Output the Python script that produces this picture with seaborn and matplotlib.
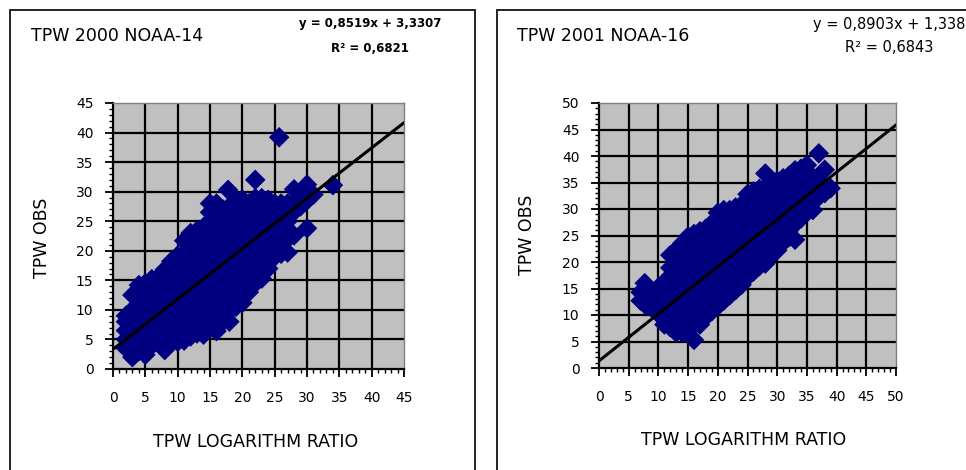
import matplotlib
matplotlib.use("Agg")
import matplotlib.pyplot as plt
from matplotlib.patches import Rectangle
from matplotlib.ticker import MultipleLocator
import numpy as np
import pandas as pd
import seaborn as sns

# ---- TPW 2000 NOAA-14 : points, column by column ----
x_2000 = ([2] * 5 + [3] * 7 + [4] * 8 + [5] * 9 + [6] * 9 + [7] * 9 + [8] * 10
          + [9] * 10 + [10] * 11 + [11] * 12 + [12] * 13 + [13] * 13 + [14] * 14
          + [15] * 15 + [16] * 16 + [17] * 14 + [17.8] + [18] * 14 + [19] * 13
          + [20] * 13 + [21] * 11 + [22] * 12 + [23] * 10 + [24] * 9 + [25] * 7
          + [25.7] + [26] * 7 + [27] * 6 + [28] * 3 + [29] * 2 + [30] * 3
          + [31] + [34])
y_2000 = [3.5, 5, 6.5, 8, 9,
          2, 4.2, 5.7, 7.2, 8.7, 10, 12.5,
          3, 4.5, 6, 7.5, 9, 10.5, 11, 14.2,
          2.4, 4, 5.5, 7, 8.5, 10, 11.5, 13, 14.5,
          4, 4.7, 6.2, 7.7, 9.2, 10.7, 12.2, 13.7, 15.2,
          4.5, 5.5, 7, 8.5, 10, 11.5, 13, 14.5, 15.5,
          3.2, 4.7, 6.2, 7.7, 9.2, 10.7, 12.2, 13.7, 15.2, 16.8,
          4.5, 6, 7.5, 9, 10.5, 12, 13.5, 15, 16.5, 18.2,
          4.6, 6.1, 7.6, 9.1, 10.6, 12.1, 13.6, 15.1, 16.6, 18.1, 19.2,
          4.8, 6, 7.5, 9, 10.5, 12, 13.5, 15, 16.5, 18, 19.5, 21.7,
          5.5, 6.8, 8.3, 9.8, 11.3, 12.8, 14.3, 15.8, 17.3, 18.8, 20.3, 21.8, 23,
          6, 7.5, 9, 10.5, 12, 13.5, 15, 16.5, 18, 19.5, 21, 22.5, 23.4,
          5.8, 7.5, 8.3, 9.8, 11.3, 12.8, 14.3, 15.8, 17.3, 18.8, 20.3, 21.8, 23.3, 24,
          7, 8.5, 10, 11.5, 13, 14.5, 16, 17.5, 19, 20.5, 22, 23.5, 25, 26.5, 28,
          6.4, 8, 9.3, 10.8, 12.3, 13.8, 15.3, 16.8, 18.3, 19.8, 21.3, 22.8, 24.3, 25.8, 27.3, 28,
          8, 9.5, 11, 12.5, 14, 15.5, 17, 18.5, 20, 21.5, 23, 24.5, 26, 27,
          30.3,
          8, 10, 11.3, 12.8, 14.3, 15.8, 17.3, 18.8, 20.3, 21.8, 23.3, 24.8, 26.3, 27.5,
          10.5, 12, 13.5, 15, 16.5, 18, 19.5, 21, 22.5, 24, 25.5, 27, 28.4,
          11.2, 12.8, 14.3, 15.8, 17.3, 18.8, 20.3, 21.8, 23.3, 24.8, 26.3, 27.8, 28.7,
          13, 14.5, 16, 17.5, 19, 20.5, 22, 23.5, 25, 26.5, 28,
          14.5, 15.8, 17.3, 18.8, 20.3, 21.8, 23.3, 24.8, 26.3, 27.8, 28.9, 32,
          15.3, 17, 18.5, 20, 21.5, 23, 24.5, 26, 27.5, 28.9,
          17, 18.3, 19.8, 21.3, 22.8, 24.3, 25.8, 27.3, 28.6,
          19, 20.5, 22, 23.5, 25, 26.5, 28,
          39.2,
          19.5, 21, 22.5, 24, 25.5, 27, 28,
          19.7, 22, 23.5, 25, 26.5, 28,
          22.6, 26.6, 30.4,
          27.5, 29,
          23.8, 28.5, 31.2,
          29.5,
          31.1]

# ---- TPW 2001 NOAA-16 : points ----
x_2001 = ([7] * 2 + [7.7] + [8] * 3 + [9] * 3 + [10] * 4 + [11] * 6 + [12] * 9
          + [13] * 11 + [14] * 12 + [15] * 12 + [16] * 13 + [17] * 12 + [18] * 12
          + [19] * 12 + [20] * 12 + [21] * 12 + [22] * 12 + [23] * 11 + [24] * 11
          + [25] * 11 + [26] * 11 + [27] * 10 + [28] * 11 + [29] * 10 + [30] * 9
          + [31] * 9 + [32] * 9 + [33] * 8 + [34] * 7 + [35] * 5 + [36] * 4
          + [37] * 3 + [38] * 2 + [39])
y_2001 = [12.7, 14.3,
          16.0,
          11.7, 13.3, 14.5,
          11.2, 12.8, 14.4,
          10.2, 11.8, 13.4, 15.2,
          8.2, 9.8, 11.4, 13, 14.6, 16.2,
          7.7, 9.3, 10.9, 12.5, 14.1, 15.7, 17.3, 18.9, 21.3,
          6.7, 8.3, 9.9, 11.5, 13.1, 14.7, 16.3, 17.9, 19.5, 21.1, 22.3,
          6.7, 7.5, 9.1, 10.7, 12.3, 13.9, 15.5, 17.1, 18.7, 20.3, 21.9, 23.5,
          7.2, 8.8, 10.4, 12, 13.6, 15.2, 16.8, 18.4, 20, 21.6, 23.2, 24.8,
          5.3, 8.2, 9.8, 11.4, 13, 14.6, 16.2, 17.8, 19.4, 21, 22.6, 24.2, 25.3,
          8.2, 9.8, 11.4, 13, 14.6, 16.2, 17.8, 19.4, 21, 22.6, 24.2, 25.8,
          9.7, 11, 12.6, 14.2, 15.8, 17.4, 19, 20.6, 22.2, 23.8, 25.4, 26.3,
          10.7, 12.3, 13.9, 15.5, 17.1, 18.7, 20.3, 21.9, 23.5, 25.1, 26.7, 27.3,
          11.7, 13, 14.6, 16.2, 17.8, 19.4, 21, 22.6, 24.2, 25.8, 27.4, 29.3,
          12.7, 14.3, 15.9, 17.5, 19.1, 20.7, 22.3, 23.9, 25.5, 27.1, 28.7, 29.8,
          13.7, 15, 16.6, 18.2, 19.8, 21.4, 23, 24.6, 26.2, 27.8, 29.4, 29.8,
          14.7, 16.3, 17.9, 19.5, 21.1, 22.7, 24.3, 25.9, 27.5, 29.1, 30.3,
          15.7, 17.2, 18.8, 20.4, 22, 23.6, 25.2, 26.8, 28.4, 30, 30.8,
          17.2, 18.8, 20.4, 22, 23.6, 25.2, 26.8, 28.4, 30, 31.6, 32.8,
          18.2, 19.6, 21.2, 22.8, 24.4, 26, 27.6, 29.2, 30.8, 32.4, 33.3,
          19.2, 20.8, 22.4, 24, 25.6, 27.2, 28.8, 30.4, 32, 33.8,
          19.7, 21.2, 22.8, 24.4, 26, 27.6, 29.2, 30.8, 32.4, 34, 36.7,
          21.2, 22.8, 24.4, 26, 27.6, 29.2, 30.8, 32.4, 34, 34.8,
          22.2, 23.6, 25.2, 26.8, 28.4, 30, 31.6, 33.2, 35.3,
          23.7, 25.2, 26.8, 28.4, 30, 31.6, 33.2, 34.8, 35.8,
          24.7, 26, 27.6, 29.2, 30.8, 32.4, 34, 35.6, 36.3,
          24.2, 27.2, 28.8, 30.4, 32, 33.6, 35.2, 37.3,
          28.2, 29.6, 31.2, 32.8, 34.4, 36, 37.6,
          29.7, 31.2, 33, 35, 38.3,
          29.8, 32.3, 34, 36,
          32.3, 35, 40.5,
          37.4, 33,
          33.9]

# trend lines as printed on the chart
slope_2000, icpt_2000, r2_2000 = 0.8519, 3.3307, "0,6821"
slope_2001, icpt_2001, r2_2001 = 0.8903, 1.338, "0,6843"

titles = ["TPW 2000 NOAA-14", "TPW 2001 NOAA-16"]
eq_texts = ["y = 0,8519x + 3,3307", "y = 0,8903x + 1,338"]
r2_texts = ["R² = " + r2_2000, "R² = " + r2_2001]
limits = [45, 50]

sns.set_theme(style="white")
plt.rcParams["font.family"] = ["DejaVu Sans"]
plt.rcParams["text.color"] = "black"

W, H = 966, 470
fig = plt.figure(figsize=(W / 100, H / 100), dpi=100)
fig.patch.set_facecolor("white")


def fx(px):
    return px / W


def fy(py):
    return 1 - py / H


# panel frames (run off the bottom / right like the source image)
fig.patches.append(Rectangle((fx(10), -0.1), fx(465), fy(10) + 0.1, transform=fig.transFigure,
                             fill=False, edgecolor="#111111", linewidth=1.3))
fig.patches.append(Rectangle((fx(497), -0.1), 1.0, fy(10) + 0.1, transform=fig.transFigure,
                             fill=False, edgecolor="#111111", linewidth=1.3))

ax1 = fig.add_axes([fx(113), fy(369), fx(291), 266 / H])
ax2 = fig.add_axes([fx(599), fy(368), fx(297), 265 / H])

panels = [
    (ax1, x_2000, y_2000, slope_2000, icpt_2000),
    (ax2, x_2001, y_2001, slope_2001, icpt_2001),
]

for i, (ax, xs, ys, m, b) in enumerate(panels):
    lim = limits[i]
    df = pd.DataFrame({"x": xs, "y": ys})
    ax.set_facecolor("#C0C0C0")
    for v in range(5, lim, 5):
        ax.axvline(v, color="black", linewidth=1.6, zorder=1)
        ax.axhline(v, color="black", linewidth=1.6, zorder=1)
    sns.scatterplot(data=df, x="x", y="y", marker="D", s=110, color="#000080",
                    edgecolor="none", linewidth=0, ax=ax, zorder=3)
    line_x = np.array([0, lim])
    sns.lineplot(x=line_x, y=m * line_x + b, color="black", linewidth=2.2, ax=ax, zorder=4)
    ax.set_xlim(0, lim)
    ax.set_ylim(0, lim)
    ax.set_xticks(range(0, lim + 1, 5))
    ax.set_yticks(range(0, lim + 1, 5))
    ax.xaxis.set_minor_locator(MultipleLocator(1))
    ax.yaxis.set_minor_locator(MultipleLocator(1))
    ax.tick_params(which="major", direction="out", length=6, width=1.3, colors="black",
                   labelsize=10, bottom=True, left=True)
    ax.tick_params(which="minor", direction="out", length=3, width=1.0, colors="black",
                   bottom=True, left=True)
    ax.tick_params(axis="x", which="major", pad=10)
    ax.tick_params(axis="y", which="major", pad=8)
    ax.set_xlabel("")
    ax.set_ylabel("")
    for side in ["left", "bottom"]:
        ax.spines[side].set_color("black")
        ax.spines[side].set_linewidth(1.6)
        ax.spines[side].set_visible(True)
    for side in ["top", "right"]:
        ax.spines[side].set_color("#7f7f7f")
        ax.spines[side].set_linewidth(1.0)
        ax.spines[side].set_visible(True)

# titles, equations and axis labels
fig.text(fx(31), fy(36), titles[0], fontsize=12.5, ha="left", va="center")
fig.text(fx(517), fy(36), titles[1], fontsize=12.5, ha="left", va="center")
fig.text(fx(370), fy(24), eq_texts[0], fontsize=8.5, ha="center", va="center", weight="bold")
fig.text(fx(370), fy(48), r2_texts[0], fontsize=8.5, ha="center", va="center", weight="bold")
fig.text(fx(889), fy(24), eq_texts[1], fontsize=10.5, ha="center", va="center")
fig.text(fx(889), fy(48), r2_texts[1], fontsize=10.5, ha="center", va="center")

fig.text(fx(42), fy(238), "TPW OBS", fontsize=12.5, rotation=90, ha="center", va="center")
fig.text(fx(527), fy(235), "TPW OBS", fontsize=12.5, rotation=90, ha="center", va="center")
fig.text(fx(256), fy(442), "TPW LOGARITHM RATIO", fontsize=12.5, ha="center", va="center")
fig.text(fx(744), fy(440), "TPW LOGARITHM RATIO", fontsize=12.5, ha="center", va="center")

fig.savefig("out.png", dpi=100, facecolor="white")
